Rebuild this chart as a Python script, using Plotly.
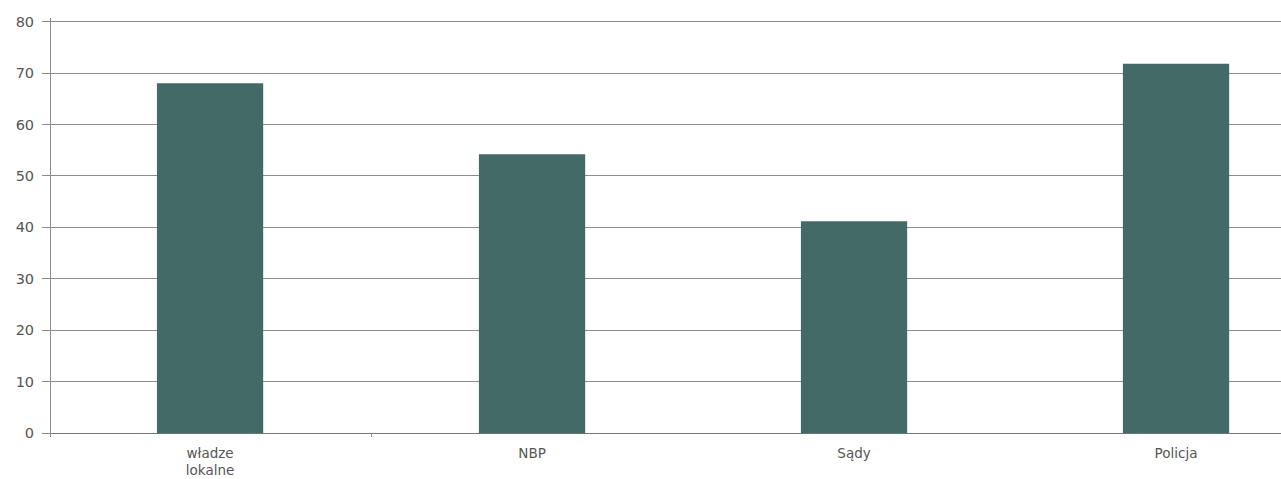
import plotly.graph_objects as go

categories = ["władze<br>lokalne", "NBP", "Sądy", "Policja"]
values = [68, 54.2, 41.2, 71.8]
y_ticks = [0, 10, 20, 30, 40, 50, 60, 70, 80]

BAR = "#446a67"
GRID = "#8c8c8c"
TXT = "#555555"
FONT = "DejaVu Sans, Liberation Sans, Arial, sans-serif"

X_RANGE = [-0.494, 3.326]

fig = go.Figure()
fig.add_trace(go.Bar(x=categories, y=values, marker_color=BAR, marker_line_width=0,
                     hoverinfo="skip"))
# helper invisible trace on overlay axis for the single boundary tick
fig.add_trace(go.Scatter(x=[0.5], y=[0], xaxis="x2", mode="markers",
                         marker=dict(opacity=0), hoverinfo="skip", showlegend=False))

fig.update_layout(
    width=1281, height=479,
    margin=dict(l=51, r=0, t=18, b=42, autoexpand=False),
    paper_bgcolor="white", plot_bgcolor="white",
    bargap=0.67, showlegend=False,
    font=dict(family=FONT, color=TXT, size=14),
    xaxis=dict(type="category", range=X_RANGE, showgrid=False, showline=False,
               zeroline=False, ticks="", automargin=False, ticklabelstandoff=6,
               tickfont=dict(size=13.5, color=TXT)),
    xaxis2=dict(overlaying="x", anchor="y", range=X_RANGE, showgrid=False,
                showline=False, zeroline=False, tickvals=[0.5], ticks="inside",
                ticklen=4, tickcolor=GRID, tickwidth=1, showticklabels=False,
                automargin=False),
    yaxis=dict(range=[-0.75, 80.7], tickvals=y_ticks, showgrid=True, gridcolor=GRID,
               gridwidth=1, zeroline=True, zerolinecolor="#777777", zerolinewidth=1,
               showline=True, linecolor=GRID, linewidth=1, ticks="outside", ticklen=8,
               tickcolor=GRID, tickfont=dict(size=14.5, color=TXT), ticklabelstandoff=5,
               automargin=False),
)

fig.write_html(
    "out.html",
    config={"displayModeBar": False},
    post_script="document.body.style.margin='0';document.body.style.overflow='hidden';",
)
